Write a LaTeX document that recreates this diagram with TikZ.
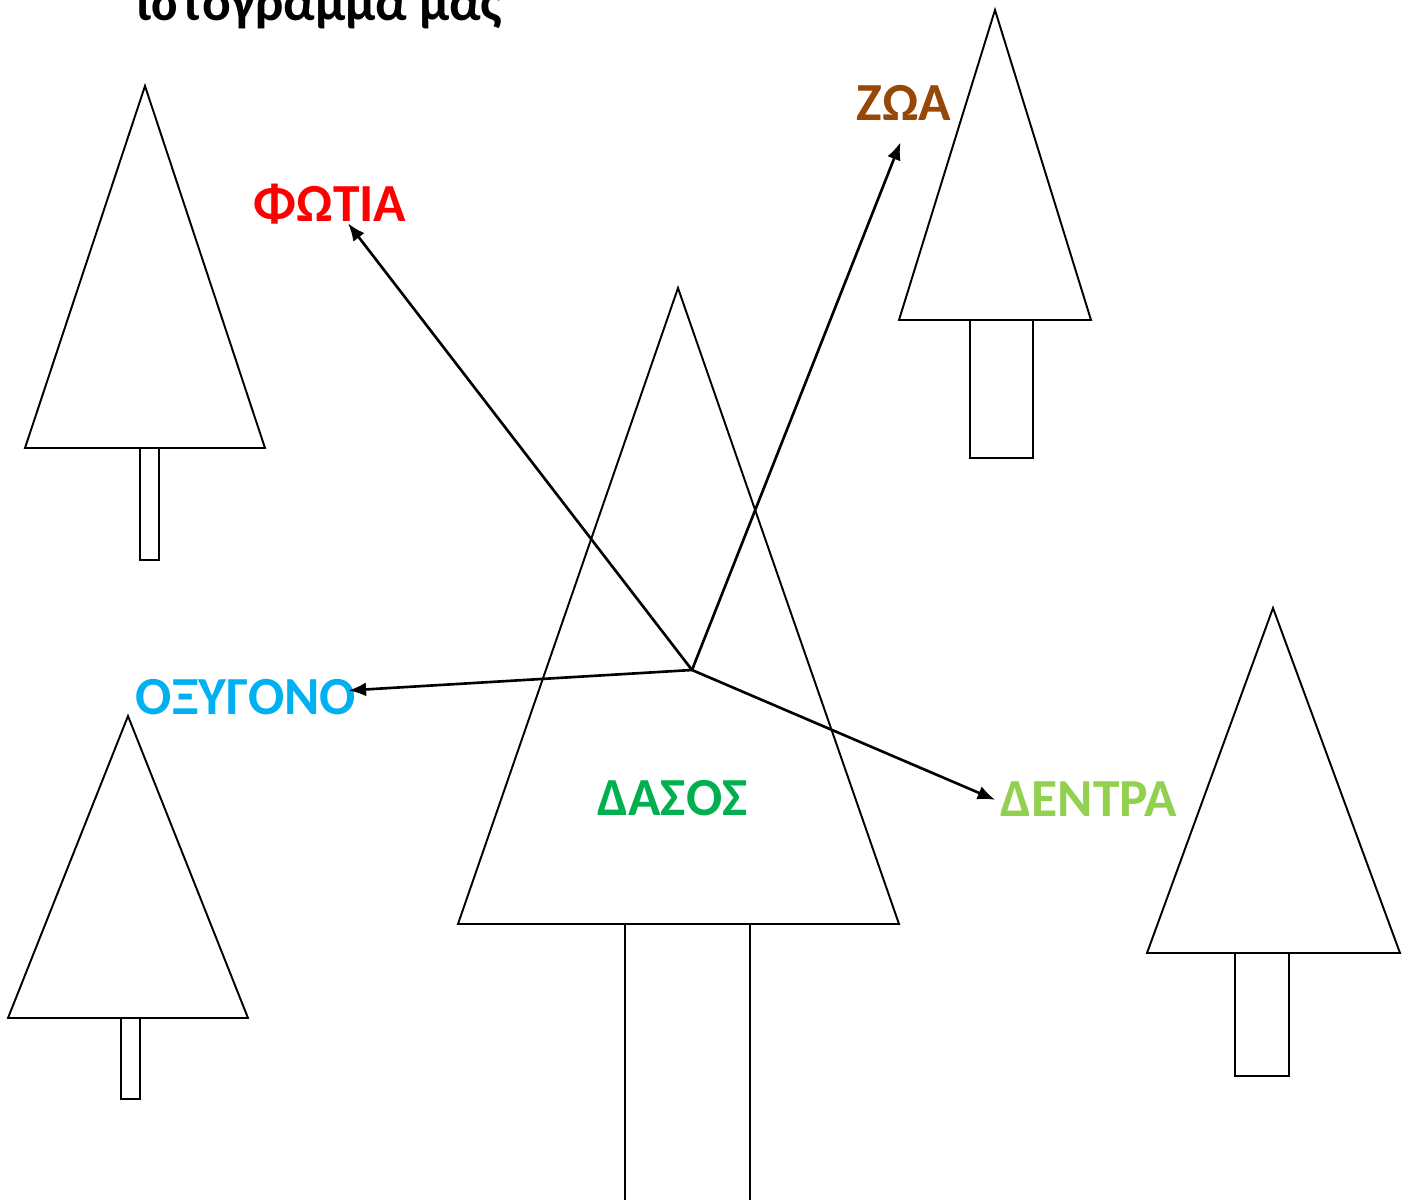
\documentclass[tikz,border=0pt]{standalone}
\usepackage{fontspec}
\setmainfont{Carlito}
\usetikzlibrary{arrows.meta}
\tikzset{
    tree/.style={line width=1.1pt},
    link/.style={line width=1.5pt,-{Latex[length=10pt,width=8pt]}},
    word/.style={font=\fontsize{30.5}{36}\selectfont\bfseries,inner sep=0pt,anchor=base}
}
\begin{document}
\begin{tikzpicture}[x=0.02cm,y=-0.02cm]
    \useasboundingbox (0,0) rectangle (1411,1200);
    \draw[tree] (145,86)--(25,448)--(265,448)--cycle;
    \draw[tree] (140,448) rectangle (159,560);
    \draw[tree] (995,10)--(899,320)--(1091,320)--cycle;
    \draw[tree] (970,320) rectangle (1033,458);
    \draw[tree] (678,288)--(458,924)--(899,924)--cycle;
    \draw[tree] (625,924) rectangle (750,1210);
    \draw[tree] (1273,608)--(1147,953)--(1400,953)--cycle;
    \draw[tree] (1235,953) rectangle (1289,1076);
    \draw[tree] (128,716)--(8,1018)--(248,1018)--cycle;
    \draw[tree] (121,1018) rectangle (140,1099);
    \node[word] (title) at (319.5,20) {ιστόγραμμά μας};
    \node[word,color={rgb,255:red,151;green,71;blue,6}] (zoa) at (904,120) {ΖΩΑ};
    \node[word,color=red] (fotia) at (330,221) {ΦΩΤΙΑ};
    \node[word,color={rgb,255:red,0;green,176;blue,240}] (oxygono) at (246,714) {ΟΞΥΓΟΝΟ};
    \node[word,color={rgb,255:red,0;green,176;blue,80}] (dasos) at (672.5,815) {ΔΑΣΟΣ};
    \node[word,color={rgb,255:red,146;green,208;blue,80}] (dentra) at (1089,816) {ΔΕΝΤΡΑ};
    \coordinate (center) at (692,670);
    \draw[link] (center)--([xshift=-2pt,yshift=-12.5pt]zoa.south);
    \draw[link] (center)--([xshift=10.3pt,yshift=0.4pt]fotia.south);
    \draw[link] (center)--([xshift=-4.5pt,yshift=-6.8pt]oxygono.north east);
    \draw[link] (center)--([xshift=-3pt,yshift=-0.7pt]dentra.west);
\end{tikzpicture}
\end{document}
